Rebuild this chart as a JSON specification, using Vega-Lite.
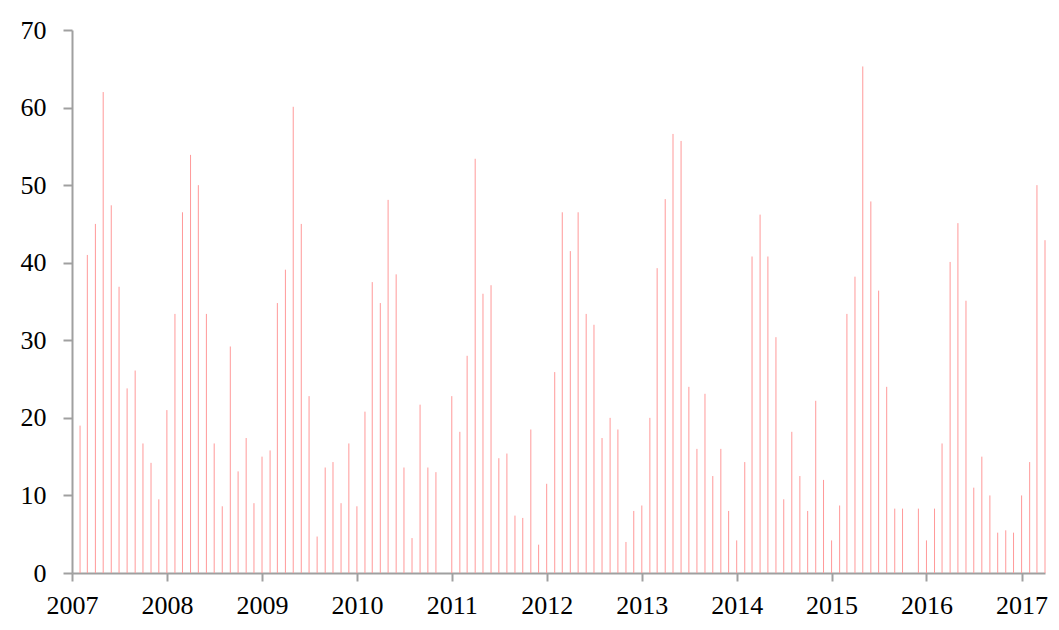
{
  "$schema": "https://vega.github.io/schema/vega-lite/v6.json",
  "width": 973,
  "height": 543,
  "autosize": {"type": "none"},
  "padding": {"left": 72, "top": 30, "right": 14, "bottom": 57},
  "background": "white",
  "config": {"view": {"stroke": null}, "font": "Liberation Serif"},
  "data": {"values": [
    {"d": "2007-02-01T00:00", "v": 19},
    {"d": "2007-03-01T00:00", "v": 41},
    {"d": "2007-04-01T00:00", "v": 45},
    {"d": "2007-05-01T00:00", "v": 62},
    {"d": "2007-06-01T00:00", "v": 47.4},
    {"d": "2007-07-01T00:00", "v": 36.9},
    {"d": "2007-08-01T00:00", "v": 23.8},
    {"d": "2007-09-01T00:00", "v": 26.1},
    {"d": "2007-10-01T00:00", "v": 16.7},
    {"d": "2007-11-01T00:00", "v": 14.2},
    {"d": "2007-12-01T00:00", "v": 9.5},
    {"d": "2008-01-01T00:00", "v": 21},
    {"d": "2008-02-01T00:00", "v": 33.4},
    {"d": "2008-03-01T00:00", "v": 46.5},
    {"d": "2008-04-01T00:00", "v": 53.9},
    {"d": "2008-05-01T00:00", "v": 50},
    {"d": "2008-06-01T00:00", "v": 33.4},
    {"d": "2008-07-01T00:00", "v": 16.7},
    {"d": "2008-08-01T00:00", "v": 8.6},
    {"d": "2008-09-01T00:00", "v": 29.2},
    {"d": "2008-10-01T00:00", "v": 13.1},
    {"d": "2008-11-01T00:00", "v": 17.4},
    {"d": "2008-12-01T00:00", "v": 9.0},
    {"d": "2009-01-01T00:00", "v": 15},
    {"d": "2009-02-01T00:00", "v": 15.8},
    {"d": "2009-03-01T00:00", "v": 34.8},
    {"d": "2009-04-01T00:00", "v": 39.1},
    {"d": "2009-05-01T00:00", "v": 60.1},
    {"d": "2009-06-01T00:00", "v": 45},
    {"d": "2009-07-01T00:00", "v": 22.8},
    {"d": "2009-08-01T00:00", "v": 4.7},
    {"d": "2009-09-01T00:00", "v": 13.6},
    {"d": "2009-10-01T00:00", "v": 14.3},
    {"d": "2009-11-01T00:00", "v": 9.0},
    {"d": "2009-12-01T00:00", "v": 16.7},
    {"d": "2010-01-01T00:00", "v": 8.6},
    {"d": "2010-02-01T00:00", "v": 20.8},
    {"d": "2010-03-01T00:00", "v": 37.5},
    {"d": "2010-04-01T00:00", "v": 34.8},
    {"d": "2010-05-01T00:00", "v": 48.1},
    {"d": "2010-06-01T00:00", "v": 38.5},
    {"d": "2010-07-01T00:00", "v": 13.6},
    {"d": "2010-08-01T00:00", "v": 4.5},
    {"d": "2010-09-01T00:00", "v": 21.7},
    {"d": "2010-10-01T00:00", "v": 13.6},
    {"d": "2010-11-01T00:00", "v": 13.0},
    {"d": "2011-01-01T00:00", "v": 22.8},
    {"d": "2011-02-01T00:00", "v": 18.2},
    {"d": "2011-03-01T00:00", "v": 28},
    {"d": "2011-04-01T00:00", "v": 53.4},
    {"d": "2011-05-01T00:00", "v": 36},
    {"d": "2011-06-01T00:00", "v": 37.1},
    {"d": "2011-07-01T00:00", "v": 14.8},
    {"d": "2011-08-01T00:00", "v": 15.4},
    {"d": "2011-09-01T00:00", "v": 7.4},
    {"d": "2011-10-01T00:00", "v": 7.1},
    {"d": "2011-11-01T00:00", "v": 18.5},
    {"d": "2011-12-01T00:00", "v": 3.65},
    {"d": "2012-01-01T00:00", "v": 11.5},
    {"d": "2012-02-01T00:00", "v": 25.9},
    {"d": "2012-03-01T00:00", "v": 46.5},
    {"d": "2012-04-01T00:00", "v": 41.5},
    {"d": "2012-05-01T00:00", "v": 46.5},
    {"d": "2012-06-01T00:00", "v": 33.4},
    {"d": "2012-07-01T00:00", "v": 32},
    {"d": "2012-08-01T00:00", "v": 17.4},
    {"d": "2012-09-01T00:00", "v": 20},
    {"d": "2012-10-01T00:00", "v": 18.5},
    {"d": "2012-11-01T00:00", "v": 4},
    {"d": "2012-12-01T00:00", "v": 8},
    {"d": "2013-01-01T00:00", "v": 8.7},
    {"d": "2013-02-01T00:00", "v": 20},
    {"d": "2013-03-01T00:00", "v": 39.3},
    {"d": "2013-04-01T00:00", "v": 48.2},
    {"d": "2013-05-01T00:00", "v": 56.6},
    {"d": "2013-06-01T00:00", "v": 55.7},
    {"d": "2013-07-01T00:00", "v": 24},
    {"d": "2013-08-01T00:00", "v": 16},
    {"d": "2013-09-01T00:00", "v": 23.1},
    {"d": "2013-10-01T00:00", "v": 12.5},
    {"d": "2013-11-01T00:00", "v": 16},
    {"d": "2013-12-01T00:00", "v": 8},
    {"d": "2014-01-01T00:00", "v": 4.2},
    {"d": "2014-02-01T00:00", "v": 14.3},
    {"d": "2014-03-01T00:00", "v": 40.8},
    {"d": "2014-04-01T00:00", "v": 46.2},
    {"d": "2014-05-01T00:00", "v": 40.8},
    {"d": "2014-06-01T00:00", "v": 30.4},
    {"d": "2014-07-01T00:00", "v": 9.5},
    {"d": "2014-08-01T00:00", "v": 18.2},
    {"d": "2014-09-01T00:00", "v": 12.5},
    {"d": "2014-10-01T00:00", "v": 8},
    {"d": "2014-11-01T00:00", "v": 22.2},
    {"d": "2014-12-01T00:00", "v": 12},
    {"d": "2015-01-01T00:00", "v": 4.2},
    {"d": "2015-02-01T00:00", "v": 8.7},
    {"d": "2015-03-01T00:00", "v": 33.4},
    {"d": "2015-04-01T00:00", "v": 38.2},
    {"d": "2015-05-01T00:00", "v": 65.3},
    {"d": "2015-06-01T00:00", "v": 47.9},
    {"d": "2015-07-01T00:00", "v": 36.4},
    {"d": "2015-08-01T00:00", "v": 24},
    {"d": "2015-09-01T00:00", "v": 8.3},
    {"d": "2015-10-01T00:00", "v": 8.3},
    {"d": "2015-12-01T00:00", "v": 8.3},
    {"d": "2016-01-01T00:00", "v": 4.2},
    {"d": "2016-02-01T00:00", "v": 8.3},
    {"d": "2016-03-01T00:00", "v": 16.7},
    {"d": "2016-04-01T00:00", "v": 40.1},
    {"d": "2016-05-01T00:00", "v": 45.1},
    {"d": "2016-06-01T00:00", "v": 35.1},
    {"d": "2016-07-01T00:00", "v": 11},
    {"d": "2016-08-01T00:00", "v": 15},
    {"d": "2016-09-01T00:00", "v": 10},
    {"d": "2016-10-01T00:00", "v": 5.2},
    {"d": "2016-11-01T00:00", "v": 5.5},
    {"d": "2016-12-01T00:00", "v": 5.2},
    {"d": "2017-01-01T00:00", "v": 10},
    {"d": "2017-02-01T00:00", "v": 14.3},
    {"d": "2017-03-01T00:00", "v": 50},
    {"d": "2017-04-01T00:00", "v": 42.9}
  ]},
  "mark": {"type": "rule", "color": "#ff9999", "strokeWidth": 1},
  "encoding": {
    "x": {
      "field": "d",
      "type": "temporal",
      "scale": {"domain": [{"year": 2007, "month": 1, "date": 1}, {"year": 2017, "month": 4, "date": 1}]},
      "axis": {
        "title": null,
        "format": "%Y",
        "tickCount": {"interval": "year", "step": 1},
        "grid": false,
        "domainColor": "#a0a0a0",
        "domainWidth": 2,
        "tickColor": "#a0a0a0",
        "tickWidth": 2,
        "tickSize": 8,
        "labelFontSize": 26,
        "labelColor": "#000000",
        "labelFont": "Liberation Serif",
        "labelPadding": 11,
        "labelFlush": false,
        "labelOverlap": false
      }
    },
    "y": {
      "field": "v",
      "type": "quantitative",
      "scale": {"domain": [0, 70], "nice": false},
      "axis": {
        "title": null,
        "values": [0, 10, 20, 30, 40, 50, 60, 70],
        "grid": false,
        "domainColor": "#a0a0a0",
        "domainWidth": 2,
        "tickColor": "#a0a0a0",
        "tickWidth": 2,
        "tickSize": 9,
        "labelFontSize": 26,
        "labelColor": "#000000",
        "labelFont": "Liberation Serif",
        "labelPadding": 17,
        "labelFlush": false
      }
    },
    "y2": {"datum": 0}
  }
}
